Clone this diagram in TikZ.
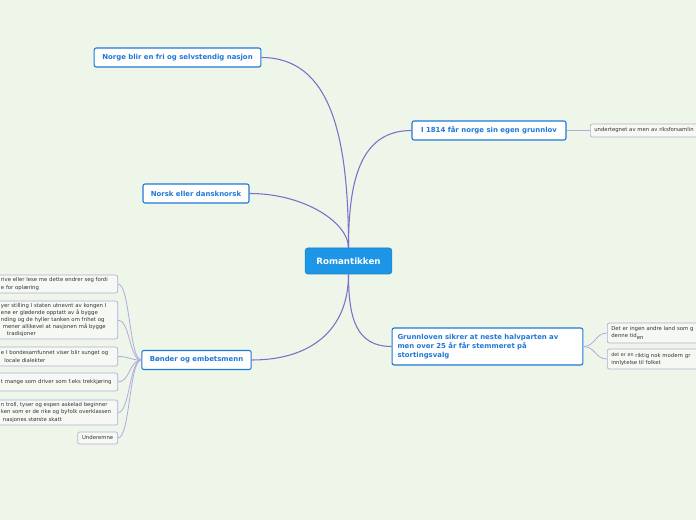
\documentclass[tikz,border=0pt]{standalone}
\usepackage{fontspec}
\setmainfont{DejaVu Sans}
\usepackage{xcolor}
\usepackage{tikz}
\definecolor{bgGreen}{HTML}{EEF6EA}
\definecolor{topBlue}{HTML}{1E96E8}
\definecolor{mainBlue}{HTML}{1F78D6}
\definecolor{linkPurple}{HTML}{7A70C8}
\definecolor{leafLine}{HTML}{B2AADC}
\definecolor{leafFill}{HTML}{F6F9F3}
\definecolor{leafText}{HTML}{333333}

\begin{document}
\begin{tikzpicture}[
  x=0.75pt, y=-0.75pt,
  root/.style={draw=topBlue!85!black, fill=topBlue, text=white, rounded corners=2pt, font=\fontsize{6.5}{8}\selectfont\bfseries, minimum width=65pt, minimum height=19.5pt, inner sep=2pt},
  topic/.style={draw=mainBlue, fill=white, text=mainBlue, line width=0.8pt, rounded corners=1.5pt, font=\fontsize{5.2}{6.75}\selectfont\bfseries, minimum height=14.25pt, inner sep=2pt},
  leaf/.style={draw=leafLine, fill=leafFill, text=leafText, line width=0.5pt, rounded corners=1.5pt, font=\fontsize{4}{5.3}\selectfont, align=left, inner xsep=3pt, inner ysep=1.5pt},
  lleaf/.style={leaf, anchor=east, text width=84.5pt},
  rleaf/.style={leaf, anchor=west, text width=90pt},
  link/.style={draw=linkPurple, line width=0.8pt},
  twig/.style={draw=leafLine, line width=0.6pt},
]
\fill[bgGreen] (0,0) rectangle (696,520);
\useasboundingbox (0,0) rectangle (696,520);
\clip (0,0) rectangle (696,520);

\node[root] (root) at (348.5, 261) {Romantikken};

\node[topic, minimum width=125pt] (norge) at (177.5, 57.5) {Norge blir en fri og selvstendig nasjon};
\node[topic, minimum width=79.5pt] (norsk) at (196, 193.5) {Norsk eller dansknorsk};
\node[topic, minimum width=82pt] (bonder) at (196.5, 360) {Bønder og embetsmenn};
\node[topic, minimum width=115.5pt] (grunnlov) at (489, 130.5) {I 1814 får norge sin egen grunnlov};
\node[topic, text width=135pt, inner xsep=4pt, align=left, minimum height=27.75pt] (valg) at (487.5, 346.5) {Grunnloven sikrer at neste halvparten av\\ men over 25 år får stemmeret på\\ stortingsvalg};

\node[lleaf, minimum height=13.5pt] (opl) at (118, 284) {rive eller lese me dette endrer seg fordi\\ e for oplæring};
\node[lleaf, minimum height=28.5pt] (stat) at (118, 320) {yer stilling I staten utnevnt av kongen I\\ ene er glødende opptatt av å bygge\\ nding og de hyller tanken om frihet og\\ \hspace*{1.5pt}mener allikevel at nasjonen må bygge\\ \hspace*{4.5pt}tradisjoner};
\node[lleaf, minimum height=14.25pt] (sang) at (118, 356.5) {e I bondesamfunnet viser blir sunget og\\ \hspace*{2.5pt}locale dialekter};
\node[lleaf, minimum height=13.5pt] (trekk) at (118, 382) {t mange som driver som f.eks trekkjøring};
\node[lleaf, minimum height=18.75pt] (eventyr) at (118, 412.5) {n troll, tyser og espen askelad beginner\\ ken som er de rike og byfolk overklassen\\ \hspace*{1.5pt}nasjones største skatt};
\node[leaf, anchor=east, align=center, minimum width=30pt, minimum height=9pt] (under) at (118, 438) {Underemne};

\node[rleaf, minimum height=9.75pt] (riks) at (590, 130.5) {undertegnet av men av riksforsamlin};
\node[rleaf, minimum height=15pt] (land) at (607, 333) {Det er ingen andre land som g\\ denne tid\raisebox{-1pt}{en}};
\node[rleaf, minimum height=15pt] (modern) at (607, 359) {\raisebox{0.6pt}{\fontsize{3.6}{4}\selectfont det er en} riktig nok modern gr\\ innlytelse til folket};

\draw[link] (root.north) .. controls +(0,-110) and +(70,0) .. (norge.east);
\draw[link] (root.north) .. controls +(0,-25) and +(55,0) .. (norsk.east);
\draw[link] (root.north) .. controls +(0,-70) and +(-50,0) .. (grunnlov.west);
\draw[link] (root.south) .. controls +(0,45) and +(-35,0) .. (valg.west);
\draw[link] (root.south) .. controls +(0,55) and +(60,0) .. (bonder.east);

\foreach \leafname in {opl, stat, sang, trekk, eventyr, under}
  \draw[twig] (bonder.west) .. controls +(-12,0) and +(12,0) .. (\leafname.east);
\draw[twig] (grunnlov.east) -- (riks.west);
\draw[twig] (valg.east) .. controls +(12,0) and +(-12,0) .. (land.west);
\draw[twig] (valg.east) .. controls +(12,0) and +(-12,0) .. (modern.west);
\end{tikzpicture}
\end{document}
